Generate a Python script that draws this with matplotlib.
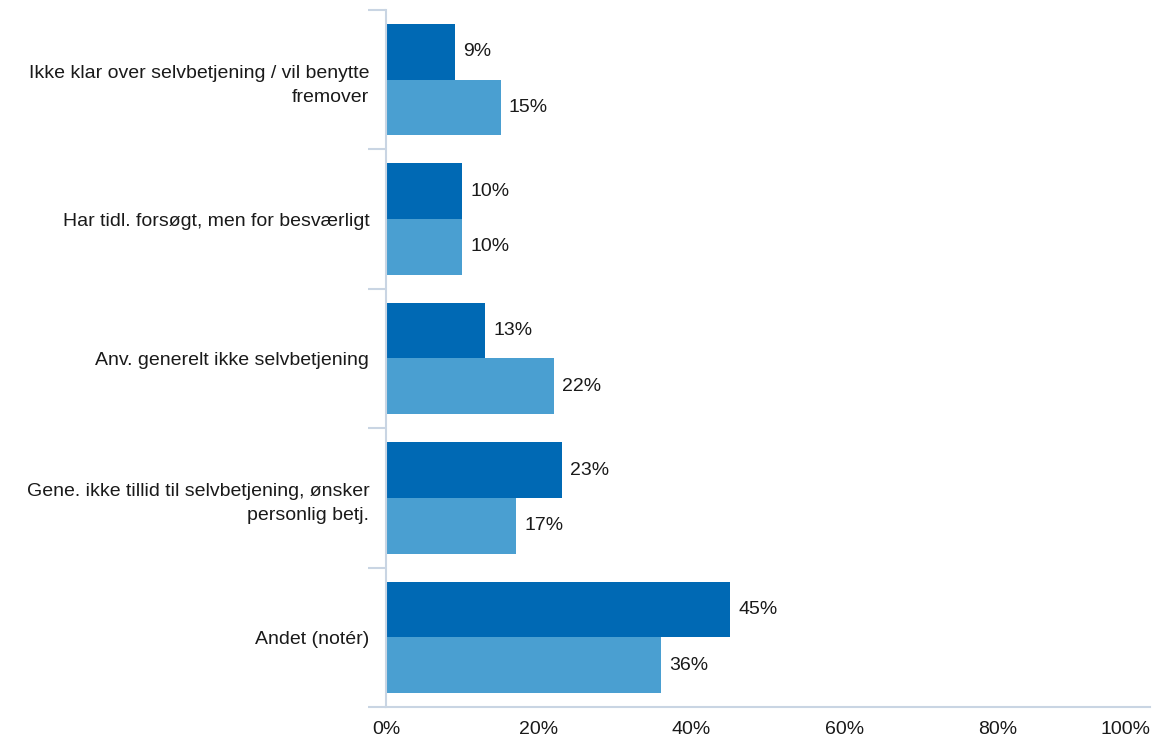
import numpy as np
import matplotlib.pyplot as plt

plt.rcParams['font.family'] = ['Liberation Sans', 'DejaVu Sans']

categories = [
    "Ikke klar over selvbetjening / vil benytte\nfremover",
    "Har tidl. forsøgt, men for besværligt",
    "Anv. generelt ikke selvbetjening",
    "Gene. ikke tillid til selvbetjening, ønsker\npersonlig betj.",
    "Andet (notér)",
]
series_dark = [9, 10, 13, 23, 45]
series_light = [15, 10, 22, 17, 36]
xticks = [0, 20, 40, 60, 80, 100]
xtick_labels = ["0%", "20%", "40%", "60%", "80%", "100%"]

dark_color = '#0069B4'
light_color = '#4A9FD1'
axis_color = '#C9D5E3'
text_color = '#1a1a1a'
fs = 14

fig = plt.figure(figsize=(11.75, 7.4), dpi=100)
ax = fig.add_axes([386 / 1175, 1 - 707 / 740, (1150 - 386) / 1175, (707 - 10) / 740])

y = np.arange(len(categories))
bh = 0.4
ax.barh(y - bh / 2, series_dark, height=bh, color=dark_color)
ax.barh(y + bh / 2, series_light, height=bh, color=light_color)

for yi, v in zip(y - bh / 2, series_dark):
    ax.annotate(f"{v}%", (v, yi), xytext=(6, 0), textcoords='offset points',
                va='center', ha='left', fontsize=fs, color=text_color)
for yi, v in zip(y + bh / 2, series_light):
    ax.annotate(f"{v}%", (v, yi), xytext=(6, 0), textcoords='offset points',
                va='center', ha='left', fontsize=fs, color=text_color)

ax.set_xlim(0, 100)
ax.set_ylim(len(categories) - 0.5, -0.5)

# category labels between boundary ticks
ax.set_yticks(y)
ax.set_yticklabels(categories, fontsize=fs, color=text_color)
for lbl in ax.get_yticklabels():
    lbl.set_linespacing(1.55)
ax.tick_params(axis='y', which='major', length=0, pad=12)
ax.set_yticks(np.arange(len(categories) + 1) - 0.5, minor=True)
ax.tick_params(axis='y', which='minor', length=13, width=1.5, color=axis_color)

ax.set_xticks(xticks)
ax.set_xticklabels(xtick_labels, fontsize=fs, color=text_color)
ax.get_xticklabels()[-1].set_horizontalalignment('right')
ax.tick_params(axis='x', length=0, pad=10)

for s in ['top', 'right']:
    ax.spines[s].set_visible(False)
for s in ['left', 'bottom']:
    ax.spines[s].set_color(axis_color)
    ax.spines[s].set_linewidth(1.5)

fig.savefig('out.png', dpi=100)
